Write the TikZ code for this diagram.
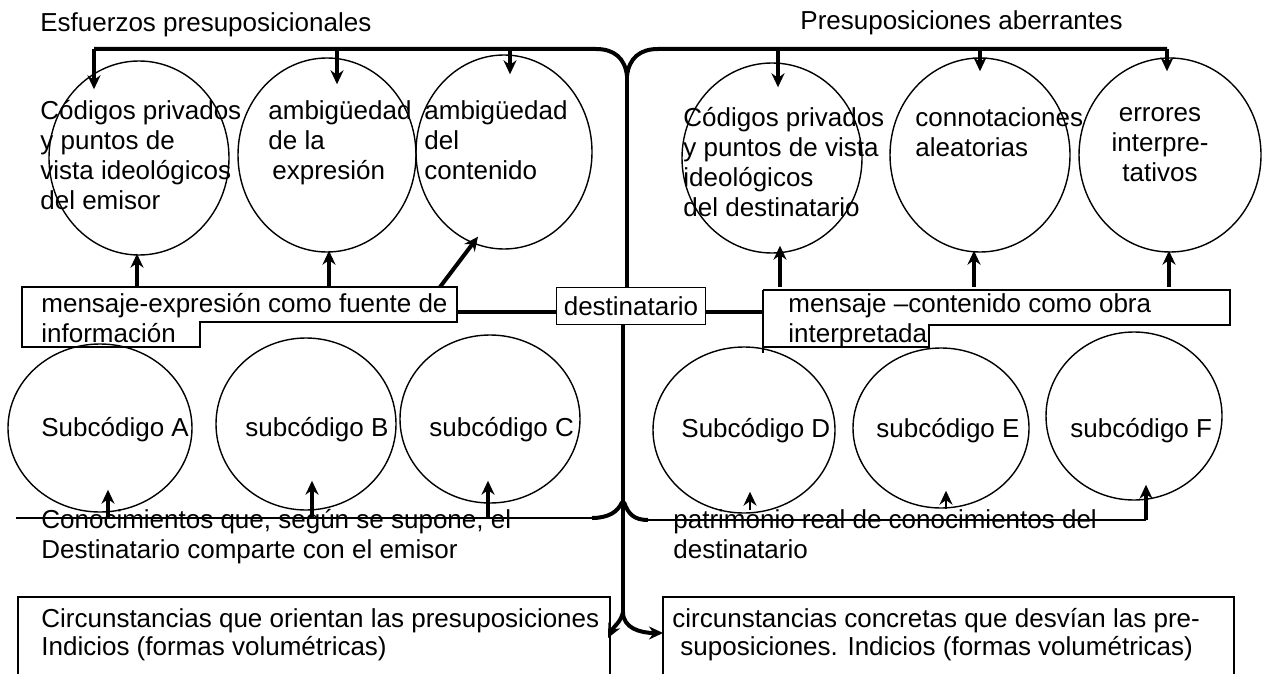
\documentclass[tikz,border=0pt]{standalone}
\usepackage{fontspec}
\setmainfont{Liberation Sans}
\usetikzlibrary{shapes.geometric,calc,arrows.meta}

\begin{document}
\begin{tikzpicture}[x=0.5pt, y=-0.5pt, >={Stealth[length=7pt,width=6.5pt]},
    every node/.style={font=\fontsize{13}{15}\selectfont},
    ring/.style={draw, ellipse, line width=0.7pt, inner sep=0pt, minimum width=90pt, minimum height=97pt},
    bubble/.style={draw, ellipse, line width=0.7pt, inner sep=0pt, minimum width=90pt, minimum height=84pt},
    lbl/.style={inner sep=0pt, anchor=base west},
    para/.style={inner sep=0pt, anchor=north west, align=left},
    link/.style={line width=2pt},
    spine/.style={line width=2.4pt},
    fine/.style={line width=1.1pt},
    frame/.style={line width=0.9pt}]
    \useasboundingbox (0,0) rectangle (1262,674);

    \node[lbl] (esf) at (40,32) {Esfuerzos presuposicionales};
    \node[lbl] (abe) at (800,30) {Presuposiciones aberrantes};

    % upper circles
    \node[ring] (c1) at (139,158) {};
    \node[ring, minimum width=89pt] (c2) at (327,155) {};
    \node[ring, minimum width=88pt] (c3) at (504,152) {};
    \node[ring, minimum height=95pt] (c4) at (772,158) {};
    \node[ring] (c5) at (980,155) {};
    \node[ring, minimum width=91pt] (c6) at (1170,155) {};

    \node[para] (t1) at (40,100) {Códigos privados\\y puntos de\\vista ideológicos\\del emisor};
    \node[para] (t2) at (268,100) {ambigüedad\\de la\\\hspace{2pt}expresión};
    \node[para] (t3) at (424,100) {ambigüedad\\del\\contenido};
    \node[para] (t4) at (683,107) {Códigos privados\\y puntos de vista\\ideológicos\\del destinatario};
    \node[para] (t5) at (915,107) {connotaciones\\aleatorias};
    \node[inner sep=0pt, anchor=north, align=center] (t6) at (1160,107) {errores\\interpre-\\tativos};

    % top bus and central spine
    \coordinate (ltop) at (94,49);
    \coordinate (rtop) at (1167,49);
    \coordinate (hub) at (627,76);
    \draw[link] (ltop) -- (596,49) .. controls (614,49) and (625,58) .. (hub);
    \draw[link] (hub) .. controls (629,58) and (640,49) .. (658,49) -- (rtop);
    \foreach \c/\dx/\dy in {c1/-45/29, c2/10/27, c3/6/20, c4/6/25, c5/0/14, c6/-3/14} {
        \coordinate (tip) at ($(\c.north)+(\dx,\dy)$);
        \draw[link,->] (tip |- ltop) -- (tip);
    }

    % message boxes
    \coordinate (lbox) at (22,287);
    \coordinate (rbox) at (763,290);
    \draw[frame] (lbox) -- (457,287) -- (457,322) -- (200,322) -- (200,347) -- (22,347) -- cycle;
    \draw[frame] (rbox) -- (1230,290) -- (1230,325) -- (929,325) -- (929,347) -- (763,347);
    \draw[frame] (rbox) -- (763,353);
    \node[para] (mexp) at (41,293) {mensaje-expresión como fuente de\\información};
    \node[para] (mcon) at (788,293) {mensaje –contenido como obra\\interpretada};
    \node[draw, frame, inner sep=0pt, minimum width=74.5pt, minimum height=18.5pt] (dest) at (631,306) {destinatario};

    \coordinate (lmid) at (457,312);
    \draw[link] (lmid) -- (lmid -| dest.west);
    \draw[link] (dest.east |- lmid) -- (lmid -| rbox);
    \draw[spine] (hub) -- (hub |- dest.north);
    \coordinate (low) at (623,612);
    \draw[spine] (low |- dest.south) -- (low);

    \foreach \c/\dx/\dy in {c1/-2/-2, c2/2/-2, c4/8/-8, c5/-6/-2, c6/-1/-2} {
        \coordinate (tip) at ($(\c.south)+(\dx,\dy)$);
        \draw[link,->] (tip |- lbox) -- (tip);
    }
    \draw[link,->] ($(lbox)+(418,0)$) -- ($(c3.south)+(-26,-13)$);

    % lower circles
    \node[bubble, minimum width=92pt] (cA) at (100,428) {};
    \node[bubble, minimum height=86pt] (cB) at (306,424) {};
    \node[bubble] (cC) at (490,419) {};
    \node[bubble, minimum width=91pt, minimum height=83pt] (cD) at (744,430) {};
    \node[bubble, minimum width=88pt, minimum height=80pt] (cE) at (941,428) {};
    \node[bubble, minimum width=88pt] (cF) at (1134,416) {};

    \node[lbl] (sA) at (41,436) {Subcódigo A};
    \node[lbl] (sB) at (245,436) {subcódigo B};
    \node[lbl] (sC) at (429,436) {subcódigo C};
    \node[lbl] (sD) at (681,437) {Subcódigo D};
    \node[lbl] (sE) at (876,437) {subcódigo E};
    \node[lbl] (sF) at (1070,437) {subcódigo F};

    % knowledge lines
    \coordinate (kno) at (16,518);
    \coordinate (pat) at (1146,520);
    \draw[fine] (kno) -- (592,518);
    \draw[link] (592,518) .. controls (608,518) and (618,512) .. (622,502);
    \draw[link] (624,502) .. controls (628,514) and (634,520) .. (648,520);
    \draw[fine] (648,520) -- (pat);
    \draw[link,->] (pat) -- ($(cF.south)+(12,-16)$);
    \foreach \c/\dx/\dy in {cA/8/-23, cB/6/-30, cC/-2/-23} {
        \coordinate (tip) at ($(\c.south)+(\dx,\dy)$);
        \draw[link,->] (tip |- kno) -- (tip);
    }
    \foreach \c/\dx/\dy in {cD/6/-22, cE/5/-18} {
        \coordinate (tip) at ($(\c.south)+(\dx,\dy)$);
        \draw[fine,->] ($(tip)+(0,18)$) -- (tip);
    }

    \node[lbl] (kn1) at (41,528) {Conocimientos que, según se supone, el};
    \node[lbl] (kn2) at (41,558) {Destinatario comparte con el emisor};
    \node[lbl] (pa1) at (673,528) {patrimonio real de conocimientos del};
    \node[lbl] (pa2) at (673,558) {destinatario};

    % circumstance boxes
    \coordinate (lcir) at (18,597);
    \coordinate (rcir) at (663,597);
    \draw[frame] (18,674) -- (lcir) -- (610,597) -- (610,674);
    \draw[frame] (663,674) -- (rcir) -- (1234,597) -- (1234,674);
    \node[lbl] (ci1) at (41,627) {Circunstancias que orientan las presuposiciones};
    \node[lbl] (ci2) at (41,655) {Indicios (formas volumétricas)};
    \node[lbl] (cc1) at (672,627) {circunstancias concretas que desvían las pre-};
    \node[lbl] (cc2) at (680,655) {suposiciones. Indicios (formas volumétricas)};

    \draw[link,->] (low) .. controls (623,628) and (640,633) .. ($(rcir)+(0,36)$);
    \draw[link,->] (low) .. controls (621,622) and (614,626) .. (608,638);
\end{tikzpicture}
\end{document}
